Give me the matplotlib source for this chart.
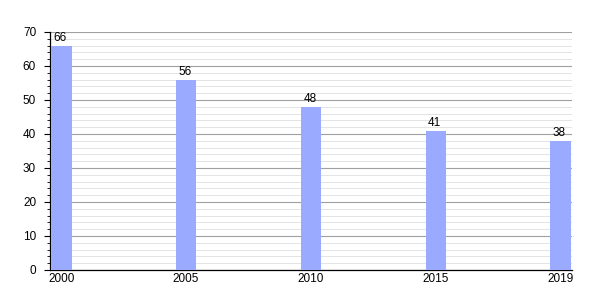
import matplotlib
matplotlib.use("Agg")
import matplotlib.pyplot as plt
from matplotlib.ticker import MultipleLocator

plt.rcParams["font.family"] = ["Liberation Sans", "DejaVu Sans"]

years = ["2000", "2005", "2010", "2015", "2019"]
values = [66, 56, 48, 41, 38]

fig = plt.figure(figsize=(6, 3), dpi=100)
ax = fig.add_axes([50/600, 30/300, 522/600, 238/300])

x = list(range(len(years)))
ax.bar(x, values, width=0.165, color="#99aaff", zorder=3)
for xi, v in zip(x, values):
    ax.text(xi - 0.01, v + 0.5, str(v), ha="center", va="bottom", fontsize=8.5, zorder=4)

ax.set_xlim(-0.09, 4.09)
ax.set_ylim(0, 70)
ax.set_xticks(x)
ax.set_xticklabels(years, fontsize=8.5)
ax.yaxis.set_major_locator(MultipleLocator(10))
ax.yaxis.set_minor_locator(MultipleLocator(2))
ax.tick_params(axis="y", which="major", length=4, width=0.8, labelsize=8.5, pad=6)
ax.tick_params(axis="y", which="minor", length=2, width=0.6)
ax.tick_params(axis="x", length=0, pad=2)
ax.grid(which="major", axis="y", color="#a0a0a0", linewidth=0.8, zorder=1)
ax.grid(which="minor", axis="y", color="#e4e4e4", linewidth=0.7, zorder=1)
for s in ["top", "right"]:
    ax.spines[s].set_visible(False)
ax.spines["left"].set_linewidth(0.9)
ax.spines["bottom"].set_linewidth(0.9)

fig.savefig("out.png", dpi=100)
